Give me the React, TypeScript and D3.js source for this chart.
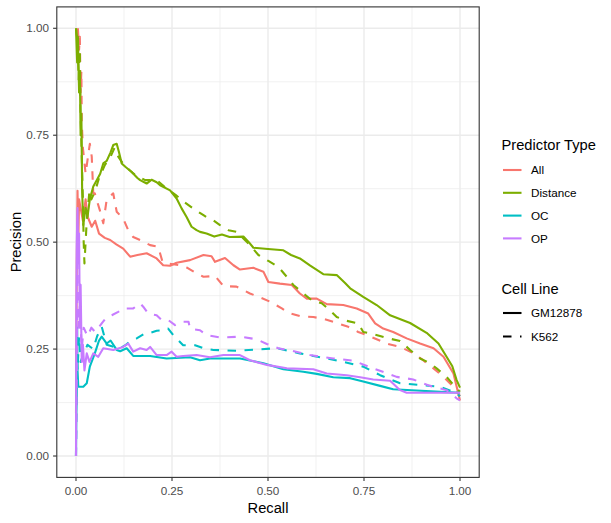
import { useEffect, useRef } from 'react';
import * as d3 from 'd3';

const predictorTypes = ['All', 'Distance', 'OC', 'OP'];
const cellLines = ['GM12878', 'K562'];
const tickValues = [0, 0.25, 0.5, 0.75, 1];
const minorTicks = [0.125, 0.375, 0.625, 0.875];

// [recall, precision] pairs
const allGM12878: [number, number][] = [
  [0, 0.1], [0.002, 0.45], [0.004, 0.62], [0.006, 0.5], [0.008, 0.6], [0.012, 0.58], [0.018, 0.55],
  [0.025, 0.6], [0.03, 0.56], [0.041, 0.536], [0.05, 0.55], [0.06, 0.52], [0.075, 0.51], [0.089, 0.505],
  [0.105, 0.495], [0.123, 0.485], [0.141, 0.466], [0.16, 0.47], [0.184, 0.474], [0.21, 0.462],
  [0.227, 0.446], [0.245, 0.445], [0.262, 0.452], [0.297, 0.458], [0.332, 0.47], [0.353, 0.467],
  [0.362, 0.454], [0.388, 0.463], [0.41, 0.446], [0.427, 0.436], [0.462, 0.44], [0.488, 0.431],
  [0.501, 0.407], [0.531, 0.403], [0.562, 0.4], [0.583, 0.38], [0.601, 0.368], [0.627, 0.368],
  [0.653, 0.355], [0.696, 0.353], [0.731, 0.345], [0.761, 0.333], [0.779, 0.31], [0.8, 0.298],
  [0.826, 0.29], [0.861, 0.275], [0.896, 0.263], [0.931, 0.252], [0.957, 0.232], [0.983, 0.193], [1, 0.13],
];

const allK562: [number, number][] = [
  [0.005, 1], [0.008, 0.95], [0.01, 0.98], [0.012, 0.85], [0.014, 0.9], [0.015, 0.78], [0.018, 0.72],
  [0.025, 0.66], [0.036, 0.73], [0.041, 0.7], [0.045, 0.614], [0.049, 0.614], [0.054, 0.598],
  [0.062, 0.575], [0.071, 0.544], [0.08, 0.6], [0.097, 0.614], [0.106, 0.571], [0.123, 0.555],
  [0.136, 0.528], [0.149, 0.512], [0.167, 0.505], [0.193, 0.493], [0.214, 0.489], [0.225, 0.455],
  [0.24, 0.45], [0.271, 0.446], [0.29, 0.44], [0.314, 0.427], [0.332, 0.419], [0.362, 0.421],
  [0.384, 0.397], [0.418, 0.396], [0.453, 0.38], [0.479, 0.371], [0.505, 0.361], [0.536, 0.345],
  [0.553, 0.335], [0.583, 0.327], [0.618, 0.325], [0.648, 0.32], [0.679, 0.311], [0.709, 0.302],
  [0.735, 0.29], [0.757, 0.283], [0.783, 0.273], [0.809, 0.263], [0.844, 0.255], [0.878, 0.241],
  [0.904, 0.224], [0.931, 0.205], [0.957, 0.185], [0.983, 0.162], [1, 0.14],
];

const distanceGM12878: [number, number][] = [
  [0, 1], [0.003, 0.92], [0.005, 0.98], [0.008, 0.85], [0.01, 0.9], [0.012, 0.75], [0.014, 0.8],
  [0.016, 0.62], [0.019, 0.54], [0.025, 0.58], [0.03, 0.56], [0.036, 0.6], [0.045, 0.63], [0.054, 0.645],
  [0.063, 0.66], [0.071, 0.684], [0.08, 0.69], [0.09, 0.71], [0.097, 0.727], [0.106, 0.73], [0.112, 0.71],
  [0.119, 0.684], [0.13, 0.675], [0.145, 0.664], [0.16, 0.65], [0.167, 0.645], [0.184, 0.637],
  [0.197, 0.646], [0.21, 0.64], [0.219, 0.633], [0.245, 0.621], [0.262, 0.602], [0.275, 0.579],
  [0.288, 0.559], [0.301, 0.536], [0.314, 0.528], [0.323, 0.524], [0.34, 0.52], [0.36, 0.513],
  [0.38, 0.518], [0.4, 0.512], [0.436, 0.513], [0.45, 0.5], [0.462, 0.487], [0.5, 0.484], [0.54, 0.481],
  [0.56, 0.47], [0.583, 0.462], [0.61, 0.445], [0.644, 0.425], [0.679, 0.423], [0.7, 0.405],
  [0.714, 0.392], [0.748, 0.372], [0.783, 0.353], [0.818, 0.329], [0.87, 0.311], [0.913, 0.288],
  [0.944, 0.263], [0.965, 0.232], [0.98, 0.21], [0.991, 0.178], [1, 0.16],
];

const distanceK562: [number, number][] = [
  [0, 1], [0.004, 0.97], [0.007, 0.88], [0.01, 0.95], [0.012, 0.8], [0.015, 0.7], [0.018, 0.6],
  [0.02, 0.5], [0.022, 0.45], [0.028, 0.55], [0.035, 0.62], [0.04, 0.6], [0.05, 0.62], [0.06, 0.65],
  [0.075, 0.68], [0.09, 0.7], [0.1, 0.72], [0.11, 0.7], [0.125, 0.68], [0.15, 0.66], [0.18, 0.645],
  [0.21, 0.645], [0.23, 0.63], [0.26, 0.61], [0.28, 0.595], [0.305, 0.579], [0.332, 0.563],
  [0.345, 0.555], [0.358, 0.551], [0.375, 0.54], [0.397, 0.528], [0.418, 0.524], [0.449, 0.497],
  [0.475, 0.47], [0.501, 0.456], [0.527, 0.442], [0.549, 0.419], [0.566, 0.4], [0.592, 0.38],
  [0.614, 0.364], [0.64, 0.357], [0.661, 0.341], [0.679, 0.325], [0.705, 0.316], [0.735, 0.31],
  [0.748, 0.29], [0.774, 0.285], [0.809, 0.276], [0.844, 0.269], [0.87, 0.248], [0.896, 0.228],
  [0.922, 0.217], [0.939, 0.205], [0.965, 0.185], [0.991, 0.158], [1, 0.15],
];

const ocGM12878: [number, number][] = [
  [0, 0], [0.001, 0.1], [0.002, 0.146], [0.003, 0.3], [0.004, 0.2], [0.006, 0.162], [0.019, 0.162],
  [0.028, 0.17], [0.036, 0.209], [0.049, 0.24], [0.06, 0.27], [0.067, 0.279], [0.08, 0.263],
  [0.09, 0.27], [0.106, 0.248], [0.115, 0.245], [0.132, 0.252], [0.149, 0.234], [0.193, 0.234],
  [0.236, 0.228], [0.297, 0.231], [0.323, 0.224], [0.349, 0.228], [0.375, 0.228], [0.427, 0.228],
  [0.488, 0.217], [0.54, 0.203], [0.592, 0.197], [0.627, 0.192], [0.67, 0.184], [0.714, 0.182],
  [0.748, 0.174], [0.792, 0.164], [0.826, 0.156], [0.887, 0.153], [0.948, 0.15], [1, 0.148],
];

const ocK562: [number, number][] = [
  [0, 0], [0.002, 0.25], [0.004, 0.2], [0.008, 0.28], [0.012, 0.22], [0.02, 0.24], [0.03, 0.26],
  [0.045, 0.25], [0.055, 0.28], [0.067, 0.302], [0.08, 0.26], [0.1, 0.255], [0.115, 0.252],
  [0.13, 0.26], [0.145, 0.271], [0.158, 0.275], [0.18, 0.287], [0.193, 0.288], [0.21, 0.293],
  [0.232, 0.294], [0.24, 0.298], [0.253, 0.283], [0.266, 0.271], [0.279, 0.259], [0.31, 0.259],
  [0.332, 0.252], [0.358, 0.248], [0.418, 0.246], [0.523, 0.252], [0.583, 0.24], [0.618, 0.234],
  [0.653, 0.228], [0.696, 0.22], [0.748, 0.209], [0.792, 0.189], [0.844, 0.17], [0.896, 0.166],
  [0.948, 0.162], [0.983, 0.15], [1, 0.14],
];

const opGM12878: [number, number][] = [
  [0, 0], [0.001, 0.35], [0.002, 0.5], [0.004, 0.58], [0.006, 0.45], [0.008, 0.52], [0.01, 0.3],
  [0.012, 0.4], [0.015, 0.22], [0.018, 0.26], [0.022, 0.2], [0.028, 0.24], [0.035, 0.22], [0.045, 0.24],
  [0.058, 0.232], [0.071, 0.252], [0.097, 0.248], [0.123, 0.255], [0.136, 0.263], [0.149, 0.244],
  [0.167, 0.252], [0.184, 0.248], [0.193, 0.255], [0.21, 0.236], [0.236, 0.236], [0.249, 0.244],
  [0.262, 0.232], [0.279, 0.234], [0.314, 0.236], [0.349, 0.231], [0.384, 0.236], [0.427, 0.236],
  [0.453, 0.224], [0.497, 0.213], [0.549, 0.205], [0.618, 0.203], [0.653, 0.193], [0.705, 0.189],
  [0.74, 0.184], [0.774, 0.179], [0.818, 0.176], [0.844, 0.154], [0.861, 0.148], [1, 0.148],
];

const opK562: [number, number][] = [
  [0, 0], [0.001, 0.1], [0.002, 0.2], [0.004, 0.45], [0.006, 0.3], [0.01, 0.35], [0.015, 0.25],
  [0.02, 0.3], [0.03, 0.28], [0.04, 0.3], [0.05, 0.29], [0.067, 0.31], [0.08, 0.325], [0.093, 0.329],
  [0.11, 0.337], [0.123, 0.345], [0.149, 0.345], [0.167, 0.357], [0.175, 0.349], [0.188, 0.333],
  [0.21, 0.329], [0.223, 0.318], [0.24, 0.318], [0.258, 0.306], [0.279, 0.314], [0.293, 0.314],
  [0.297, 0.298], [0.323, 0.294], [0.34, 0.283], [0.375, 0.277], [0.427, 0.279], [0.47, 0.273],
  [0.497, 0.262], [0.527, 0.252], [0.562, 0.246], [0.609, 0.236], [0.67, 0.228], [0.722, 0.223],
  [0.774, 0.205], [0.835, 0.185], [0.878, 0.179], [0.922, 0.164], [0.965, 0.154], [0.991, 0.135], [1, 0.13],
];

const curves = [
  { type: 'All', cell: 'GM12878', points: allGM12878 },
  { type: 'All', cell: 'K562', points: allK562 },
  { type: 'Distance', cell: 'GM12878', points: distanceGM12878 },
  { type: 'Distance', cell: 'K562', points: distanceK562 },
  { type: 'OC', cell: 'GM12878', points: ocGM12878 },
  { type: 'OC', cell: 'K562', points: ocK562 },
  { type: 'OP', cell: 'GM12878', points: opGM12878 },
  { type: 'OP', cell: 'K562', points: opK562 },
];

export default function App() {
  const svgRef = useRef<SVGSVGElement>(null);

  useEffect(() => {
    if (!svgRef.current) return;
    const svg = d3.select(svgRef.current);
    svg.selectAll('*').remove();

    const width = 611;
    const height = 523;
    const font = '"Liberation Sans", Arial, sans-serif';
    const panel = { left: 56.8, right: 479.2, top: 6.9, bottom: 477.4 };

    svg.attr('width', width).attr('height', height).style('font-family', font);

    const x = d3.scaleLinear().domain([-0.05, 1.05]).range([panel.left, panel.right]);
    const y = d3.scaleLinear().domain([-0.05, 1.05]).range([panel.bottom, panel.top]);

    const color = d3.scaleOrdinal<string, string>()
      .domain(predictorTypes)
      .range(['#F8766D', '#7CAE00', '#00BFC4', '#C77CFF']);
    const dash = d3.scaleOrdinal<string, string>()
      .domain(cellLines)
      .range(['none', '8.5,8.5']);

    svg.append('rect')
      .attr('width', width).attr('height', height).attr('fill', 'white');

    // grid
    const grid = svg.append('g');
    minorTicks.forEach((t) => {
      grid.append('line')
        .attr('x1', x(t)).attr('x2', x(t)).attr('y1', panel.top).attr('y2', panel.bottom)
        .attr('stroke', '#EBEBEB').attr('stroke-width', 0.7);
      grid.append('line')
        .attr('y1', y(t)).attr('y2', y(t)).attr('x1', panel.left).attr('x2', panel.right)
        .attr('stroke', '#EBEBEB').attr('stroke-width', 0.7);
    });
    tickValues.forEach((t) => {
      grid.append('line')
        .attr('x1', x(t)).attr('x2', x(t)).attr('y1', panel.top).attr('y2', panel.bottom)
        .attr('stroke', '#EBEBEB').attr('stroke-width', 1.4);
      grid.append('line')
        .attr('y1', y(t)).attr('y2', y(t)).attr('x1', panel.left).attr('x2', panel.right)
        .attr('stroke', '#EBEBEB').attr('stroke-width', 1.4);
    });

    // curves
    const line = d3.line<[number, number]>()
      .x((d) => x(d[0]))
      .y((d) => y(d[1]));

    svg.append('g')
      .selectAll('path')
      .data(curves)
      .join('path')
      .attr('d', (d) => line(d.points))
      .attr('fill', 'none')
      .attr('stroke', (d) => color(d.type))
      .attr('stroke-width', 2.1)
      .attr('stroke-dasharray', (d) => dash(d.cell))
      .attr('stroke-linejoin', 'round');

    // panel border
    svg.append('rect')
      .attr('x', panel.left).attr('y', panel.top)
      .attr('width', panel.right - panel.left).attr('height', panel.bottom - panel.top)
      .attr('fill', 'none').attr('stroke', '#333333').attr('stroke-width', 1.1);

    // x axis
    const xAxis = svg.append('g');
    tickValues.forEach((t) => {
      xAxis.append('line')
        .attr('x1', x(t)).attr('x2', x(t)).attr('y1', panel.bottom).attr('y2', panel.bottom + 3.7)
        .attr('stroke', '#333333').attr('stroke-width', 1.1);
      xAxis.append('text')
        .attr('x', x(t)).attr('y', 495)
        .attr('text-anchor', 'middle').attr('font-size', 11.7).attr('fill', '#4D4D4D')
        .text(d3.format('.2f')(t));
    });

    // y axis
    const yAxis = svg.append('g');
    tickValues.forEach((t) => {
      yAxis.append('line')
        .attr('x1', panel.left - 3.7).attr('x2', panel.left).attr('y1', y(t)).attr('y2', y(t))
        .attr('stroke', '#333333').attr('stroke-width', 1.1);
      yAxis.append('text')
        .attr('x', 49).attr('y', y(t) + 4.2)
        .attr('text-anchor', 'end').attr('font-size', 11.7).attr('fill', '#4D4D4D')
        .text(d3.format('.2f')(t));
    });

    svg.append('text')
      .attr('x', (panel.left + panel.right) / 2).attr('y', 512.5)
      .attr('text-anchor', 'middle').attr('font-size', 14.7).attr('fill', 'black')
      .text('Recall');

    svg.append('text')
      .attr('transform', `translate(20.5, ${(panel.top + panel.bottom) / 2}) rotate(-90)`)
      .attr('text-anchor', 'middle').attr('font-size', 14.7).attr('fill', 'black')
      .text('Precision');

    // legends
    const legend = svg.append('g');
    legend.append('text')
      .attr('x', 501.5).attr('y', 150)
      .attr('font-size', 14.7).attr('fill', 'black')
      .text('Predictor Type');
    predictorTypes.forEach((p, i) => {
      const cy = 170 + i * 22.8;
      legend.append('line')
        .attr('x1', 503).attr('x2', 521.5).attr('y1', cy).attr('y2', cy)
        .attr('stroke', color(p)).attr('stroke-width', 2.1);
      legend.append('text')
        .attr('x', 531).attr('y', cy + 4.2)
        .attr('font-size', 11.7).attr('fill', 'black')
        .text(p);
    });

    legend.append('text')
      .attr('x', 501.5).attr('y', 294)
      .attr('font-size', 14.7).attr('fill', 'black')
      .text('Cell Line');
    cellLines.forEach((c, i) => {
      const cy = 313 + i * 23.5;
      legend.append('line')
        .attr('x1', 503).attr('x2', 521.5).attr('y1', cy).attr('y2', cy)
        .attr('stroke', 'black').attr('stroke-width', 2.1)
        .attr('stroke-dasharray', dash(c));
      legend.append('text')
        .attr('x', 531).attr('y', cy + 4.2)
        .attr('font-size', 11.7).attr('fill', 'black')
        .text(c);
    });
  }, []);

  return (
    <svg ref={svgRef} style={{ position: 'absolute', left: 0, top: 0, display: 'block' }}></svg>
  );
}
